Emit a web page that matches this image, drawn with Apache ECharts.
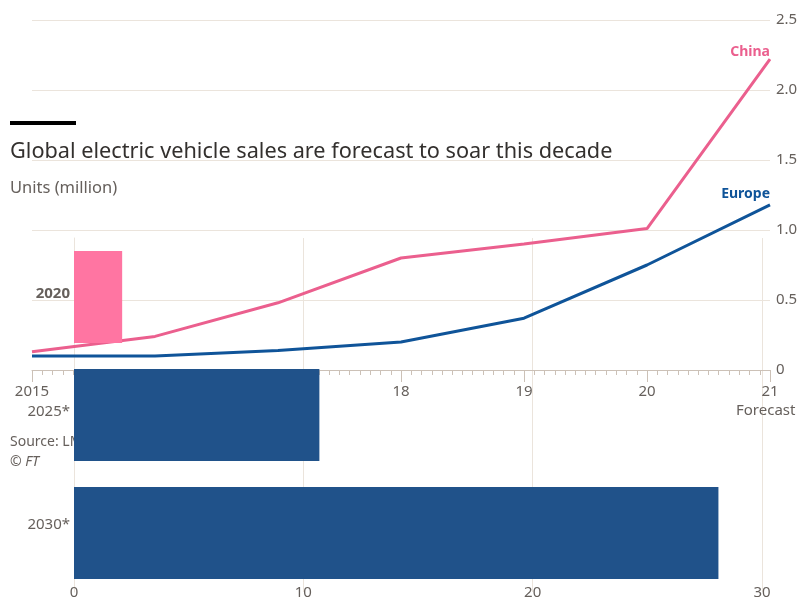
<!DOCTYPE html>
<html>
<head>
<meta charset="utf-8">
<script src="https://cdn.jsdelivr.net/npm/echarts@6/dist/echarts.min.js"></script>
<style>
html,body{margin:0;padding:0;background:#fff;}
#chart{width:797px;height:601px;}
</style>
</head>
<body>
<div id="chart"></div>
<script>
// Line chart data (units, million)
const years = [2015, 2016, 2017, 2018, 2019, 2020, 2021];
const chinaSales = [0.13, 0.24, 0.48, 0.80, 0.90, 1.01, 2.22];
const europeSales = [0.10, 0.10, 0.14, 0.20, 0.37, 0.75, 1.18];
const lineYTicks = [0, 0.5, 1.0, 1.5, 2.0, 2.5];

// Bar chart data (units, million)
const barCategories = ['2020', '2025*', '2030*'];
const barValues = [2.1, 10.7, 28.1];
const barXTicks = [0, 10, 20, 30];

const PINK_LINE = '#eb5f8e';
const BLUE_LINE = '#0f5499';
const PINK_BAR = '#ff75a2';
const NAVY_BAR = '#20528a';
const GRID = '#ebe4dc';
const AXIS = '#ccc1b7';
const TXT = '#66605c';
const FONT = 'Noto Sans';

const chart = echarts.init(document.getElementById('chart'), null, {renderer: 'canvas'});

const barColors = [PINK_BAR, NAVY_BAR, NAVY_BAR];

const option = {
  animation: false,
  backgroundColor: '#ffffff',
  textStyle: {fontFamily: FONT},
  grid: [
    {left: 32, right: 27, top: 20, bottom: 231, outerBoundsMode: 'none', containLabel: false},
    {left: 74, right: 35, top: 238, bottom: 9, outerBoundsMode: 'none', containLabel: false}
  ],
  xAxis: [
    {
      gridIndex: 0, type: 'value', min: years[0], max: years[years.length - 1], interval: 1,
      axisLine: {show: true, lineStyle: {color: AXIS, width: 1}},
      axisTick: {show: true, length: 12, lineStyle: {color: AXIS}},
      minorTick: {show: true, splitNumber: 12, length: 5, lineStyle: {color: AXIS}},
      splitLine: {show: false},
      axisLabel: {
        color: TXT, fontSize: 15, margin: 14, fontFamily: FONT,
        formatter: v => v === years[0] ? String(v) : String(v).slice(2)
      }
    },
    {
      gridIndex: 1, type: 'value', min: barXTicks[0], max: barXTicks[barXTicks.length - 1], interval: 10,
      axisLine: {show: false}, axisTick: {show: false},
      splitLine: {show: true, lineStyle: {color: GRID, width: 1}},
      axisLabel: {color: TXT, fontSize: 15, margin: -7, fontFamily: FONT}
    }
  ],
  yAxis: [
    {
      gridIndex: 0, type: 'value', position: 'right',
      min: lineYTicks[0], max: lineYTicks[lineYTicks.length - 1], interval: 0.5,
      axisLine: {show: false}, axisTick: {show: false},
      splitLine: {show: true, lineStyle: {color: GRID, width: 1}},
      axisLabel: {
        color: TXT, fontSize: 15, margin: 6, fontFamily: FONT,
        formatter: v => v === 0 ? '0' : v.toFixed(1)
      }
    },
    {
      gridIndex: 1, type: 'category', inverse: true,
      data: barCategories,
      axisLine: {show: true, lineStyle: {color: GRID}}, axisTick: {show: false},
      axisLabel: {
        color: TXT, fontSize: 15, margin: 4, fontFamily: FONT,
        formatter: (v, i) => '{s' + i + '|' + v + '}',
        rich: {
          s0: {fontWeight: 'bold', fontSize: 15, color: TXT, padding: [0, 0, 6, 0]},
          s1: {fontSize: 15, color: TXT, padding: [0, 0, 6, 0]},
          s2: {fontSize: 15, color: TXT, padding: [0, 0, 16, 0]}
        }
      }
    }
  ],
  series: [
    {
      name: 'China', type: 'line', xAxisIndex: 0, yAxisIndex: 0,
      data: years.map((y, i) => [y, chinaSales[i]]),
      showSymbol: false, symbol: 'none',
      lineStyle: {color: PINK_LINE, width: 3},
      endLabel: {show: true, formatter: 'China', color: PINK_LINE, fontWeight: 'bold',
        fontSize: 14, align: 'right', distance: 0, offset: [0, -7], fontFamily: FONT},
      z: 3
    },
    {
      name: 'Europe', type: 'line', xAxisIndex: 0, yAxisIndex: 0,
      data: years.map((y, i) => [y, europeSales[i]]),
      showSymbol: false, symbol: 'none',
      lineStyle: {color: BLUE_LINE, width: 3},
      endLabel: {show: true, formatter: 'Europe', color: BLUE_LINE, fontWeight: 'bold',
        fontSize: 14, align: 'right', distance: 0, offset: [0, -11], fontFamily: FONT},
      z: 3
    },
    {
      name: 'Sales', type: 'bar', xAxisIndex: 1, yAxisIndex: 1,
      data: barValues.map((v, i) => ({value: v, itemStyle: {color: barColors[i]}})),
      barWidth: 92,
      z: 5
    }
  ],
  graphic: [
    {type: 'rect', left: 10, top: 121, shape: {width: 66, height: 4}, style: {fill: '#000'}, z: 10},
    {type: 'text', left: 10, top: 141, z: 10,
      style: {text: 'Global electric vehicle sales are forecast to soar this decade',
        fontSize: 21.7, fill: '#33302e', fontFamily: FONT}},
    {type: 'text', left: 10, top: 180, z: 10,
      style: {text: 'Units (million)', fontSize: 16.5, fill: TXT, fontFamily: FONT}},
    {type: 'text', left: 10, top: 435, z: 0,
      style: {text: 'Source: LMC Automotive', fontSize: 14, fill: TXT, fontFamily: FONT}},
    {type: 'text', left: 10, top: 455, z: 0,
      style: {text: '© FT', fontSize: 14, fill: TXT, fontStyle: 'italic', fontFamily: FONT}},
    {type: 'text', left: 736, top: 403, z: 10,
      style: {text: 'Forecast', fontSize: 15, fill: TXT, fontFamily: FONT}}
  ]
};
chart.setOption(option);
</script>
</body>
</html>
